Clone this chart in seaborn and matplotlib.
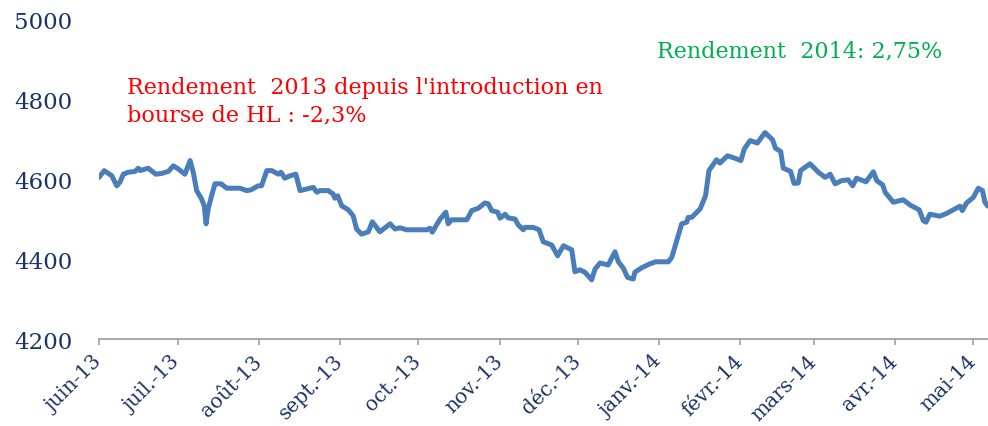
import matplotlib
matplotlib.use("Agg")
import matplotlib.pyplot as plt
import pandas as pd
import seaborn as sns

# Index level, June 2013 - May 2014 (days counted from 1 June 2013)
start_date = "2013-06-01"
day = [0.0, 2.0, 4.9, 6.8, 8.0, 9.3, 11.2, 13.8, 15.0, 15.7, 18.8, 21.7, 24.0,
       26.5, 28.4, 30.3, 32.8, 34.8, 36.0, 37.3, 39.2, 40.2, 40.9, 41.7, 43.0,
       44.3, 46.6, 48.8, 53.9, 56.4, 58.1, 60.8, 62.1, 64.1, 66.0, 68.5, 69.5,
       71.0, 73.0, 75.2, 76.8, 79.3, 81.9, 83.2, 84.4, 87.6, 89.5, 90.1, 91.2,
       92.7, 95.2, 97.1, 98.4, 100.3, 102.9, 104.4, 107.3, 111.2, 113.1, 115.0,
       117.5, 125.2, 126.4, 127.3, 130.3, 132.5, 133.4, 134.7, 140.5, 142.4,
       144.9, 147.4, 148.7, 150.0, 152.3, 153.2, 155.1, 156.3, 158.9, 160.2,
       162.1, 162.7, 165.9, 168.1, 169.7, 172.9, 175.2, 177.4, 180.6, 181.8,
       183.7, 185.6, 188.2, 189.5, 191.4, 194.5, 197.1, 198.4, 200.3, 201.9,
       204.1, 204.7, 207.3, 210.5, 212.6, 217.5, 218.8, 222.6, 224.5, 225.1,
       226.4, 229.6, 231.7, 233.0, 235.9, 237.2, 240.1, 242.9, 245.2, 246.5,
       248.7, 251.5, 254.4, 257.3, 258.4, 260.4, 261.4, 264.2, 265.5, 267.1,
       268.0, 271.6, 274.8, 277.4, 279.3, 281.2, 283.7, 286.2, 287.9, 289.4,
       293.0, 295.8, 297.1, 299.4, 300.3, 303.4, 307.2, 309.8, 313.3, 314.9,
       315.9, 317.4, 321.2, 323.8, 328.9, 329.8, 331.4, 334.0, 335.9, 337.5,
       338.4, 339.6]
level = [4604, 4621, 4608, 4583, 4592, 4612, 4617, 4619, 4627, 4621, 4627, 4612,
         4614, 4619, 4633, 4625, 4612, 4646, 4617, 4571, 4550, 4533, 4488, 4525,
         4558, 4588, 4588, 4577, 4577, 4571, 4573, 4583, 4583, 4621, 4621, 4612,
         4617, 4602, 4608, 4612, 4571, 4575, 4579, 4567, 4571, 4571, 4562, 4552,
         4558, 4533, 4523, 4508, 4475, 4462, 4468, 4493, 4468, 4488, 4475, 4478,
         4473, 4473, 4477, 4467, 4500, 4517, 4488, 4498, 4498, 4521, 4527, 4540,
         4538, 4521, 4517, 4502, 4512, 4503, 4500, 4485, 4473, 4479, 4479, 4473,
         4443, 4435, 4408, 4433, 4423, 4368, 4373, 4367, 4348, 4375, 4390, 4385,
         4418, 4393, 4377, 4354, 4350, 4367, 4378, 4388, 4393, 4393, 4404, 4488,
         4492, 4504, 4504, 4525, 4558, 4621, 4648, 4640, 4658, 4652, 4646, 4675,
         4696, 4690, 4716, 4698, 4677, 4669, 4627, 4619, 4589, 4590, 4621, 4638,
         4617, 4604, 4612, 4588, 4596, 4598, 4583, 4602, 4593, 4618, 4596, 4585,
         4567, 4542, 4548, 4535, 4523, 4496, 4492, 4512, 4507, 4514, 4532, 4521,
         4540, 4554, 4577, 4571, 4542, 4532]

month_ticks = ["2013-06-01", "2013-07-01", "2013-08-01", "2013-09-01", "2013-10-01",
               "2013-11-01", "2013-12-01", "2014-01-01", "2014-02-01", "2014-03-01",
               "2014-04-01", "2014-05-01"]
month_labels = ["juin-13", "juil.-13", "août-13", "sept.-13", "oct.-13", "nov.-13",
                "déc.-13", "janv.-14", "févr.-14", "mars-14", "avr.-14", "mai-14"]
y_ticks = [4200, 4400, 4600, 4800, 5000]

note_2013 = "Rendement  2013 depuis l'introduction en\nbourse de HL : -2,3%"
note_2014 = "Rendement  2014: 2,75%"

sns.set_theme(style="white")
plt.rcParams["font.family"] = ["DejaVu Serif", "DejaVu Sans"]

navy = "#1B3365"
W, H = 988, 427
fig = plt.figure(figsize=(W / 100, H / 100), dpi=100)
ax = fig.add_axes([99 / W, 1 - 340 / H, 1 - 99 / W, 320 / H])

df = pd.DataFrame({
    "date": pd.Timestamp(start_date) + pd.to_timedelta(day, unit="D"),
    "level": level,
})
sns.lineplot(data=df, x="date", y="level", ax=ax, color="#4A7EBB",
             linewidth=3.6, solid_joinstyle="round", solid_capstyle="round")

ax.set_xlim(pd.Timestamp(start_date), df["date"].iloc[-1])
ax.set_ylim(4200, 5000)
ax.set_xlabel("")
ax.set_ylabel("")

ax.set_yticks(y_ticks)
ax.set_yticklabels([str(v) for v in y_ticks], color=navy, fontsize=16.5)
ax.tick_params(axis="y", length=0, pad=19)

ax.set_xticks(pd.to_datetime(month_ticks))
ax.set_xticklabels(month_labels, rotation=45, ha="right", va="center",
                   rotation_mode="anchor", color=navy, fontsize=14.5)
ax.tick_params(axis="x", length=4.5, width=1.1, color="#9A9A9A", pad=9,
               direction="out", bottom=True)

for side in ["top", "right", "left"]:
    ax.spines[side].set_visible(False)
ax.spines["bottom"].set_color("#9A9A9A")
ax.spines["bottom"].set_linewidth(1.2)
ax.grid(False)

fig.text(127 / W, 1 - 77 / H, note_2013, color="#FF0000", fontsize=16,
         ha="left", va="top", linespacing=1.3)
fig.text(657 / W, 1 - 40 / H, note_2014, color="#00B050", fontsize=16,
         ha="left", va="top")

fig.savefig("out.png", dpi=100)
